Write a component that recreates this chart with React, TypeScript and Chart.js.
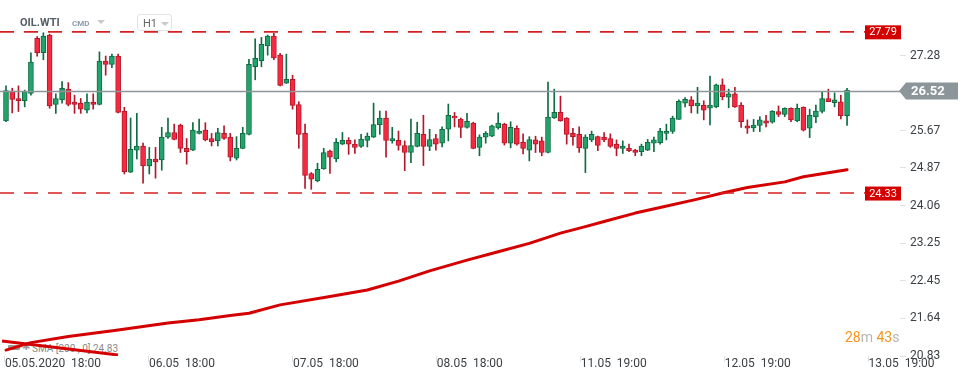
import React, { useEffect, useRef } from 'react';
import { Chart, registerables } from 'chart.js';

Chart.register(...registerables);

// ---- Data ----
const opens = [
  25.88, 26.52, 26.36, 26.31, 26.47, 27.65, 27.34, 27.72, 26.23, 26.33,
  26.56, 26.28, 26.26, 26.11, 26.28, 26.23, 27.16, 27.09, 27.27, 26.09,
  24.78, 25.25, 25.34, 24.91, 25.06, 25.04, 25.53, 25.63, 25.79, 25.29,
  25.25, 25.61, 25.68, 25.50, 25.45, 25.61, 25.53, 25.08, 25.29, 25.59,
  27.04, 27.17, 27.49, 27.70, 27.29, 26.69, 26.77, 26.23, 25.61, 24.75,
  24.59, 24.85, 25.23, 25.06, 25.38, 25.46, 25.38, 25.33, 25.46, 25.53,
  25.80, 25.94, 25.45, 25.46, 25.35, 25.20, 25.33, 25.59, 25.33, 25.50,
  25.40, 25.70, 25.98, 25.92, 25.74, 25.83, 25.31, 25.53, 25.55, 25.73,
  25.81, 25.40, 25.72, 25.42, 25.25, 25.47, 25.45, 25.20, 25.94, 26.06,
  25.94, 25.61, 25.59, 25.29, 25.47, 25.54, 25.53, 25.50, 25.38, 25.29,
  25.29, 25.25, 25.22, 25.25, 25.40, 25.41, 25.61, 25.65, 25.91, 26.26,
  26.33, 26.20, 26.22, 26.15, 26.18, 26.65, 26.39, 26.46, 26.22, 25.77,
  25.73, 25.78, 25.88, 25.85, 26.08, 26.02, 26.15, 25.88, 26.17, 25.72,
  25.97, 26.08, 26.36, 26.27, 26.29, 25.99,
];
const highs = [
  26.63, 26.58, 26.63, 26.54, 27.34, 27.69, 27.77, 27.74, 26.46, 26.72,
  26.70, 26.43, 26.36, 26.46, 26.46, 27.36, 27.27, 27.31, 27.31, 26.17,
  25.94, 26.04, 25.40, 25.31, 25.31, 25.74, 25.94, 25.81, 25.81, 25.50,
  25.84, 25.92, 25.84, 25.61, 25.72, 25.77, 25.61, 25.54, 25.74, 27.20,
  27.64, 27.67, 27.72, 27.76, 27.33, 27.31, 26.86, 26.29, 25.81, 24.77,
  24.97, 25.29, 25.25, 25.50, 25.63, 25.52, 25.47, 25.59, 25.62, 26.26,
  26.09, 26.09, 25.74, 25.66, 25.45, 25.92, 25.85, 26.00, 25.70, 25.59,
  25.75, 26.24, 26.06, 25.94, 26.04, 25.85, 25.58, 25.65, 25.79, 26.05,
  25.83, 25.86, 25.77, 25.60, 25.54, 25.55, 25.53, 26.71, 26.56, 26.41,
  25.95, 25.72, 25.75, 25.58, 25.66, 25.55, 25.63, 25.60, 25.47, 25.45,
  25.38, 25.27, 25.38, 25.48, 25.53, 25.72, 25.81, 25.98, 26.33, 26.38,
  26.40, 26.60, 26.31, 26.84, 26.67, 26.78, 26.56, 26.60, 26.27, 25.90,
  25.91, 25.97, 26.00, 26.10, 26.20, 26.16, 26.16, 26.24, 26.18, 26.13,
  26.22, 26.51, 26.56, 26.48, 26.43, 26.58,
];
const lows = [
  25.86, 26.05, 26.08, 26.18, 26.43, 27.27, 27.19, 26.15, 26.04, 26.26,
  26.20, 26.04, 26.04, 26.05, 26.13, 26.22, 26.86, 27.02, 26.05, 24.74,
  24.77, 25.06, 24.54, 24.74, 24.65, 24.82, 25.50, 25.47, 25.20, 24.95,
  25.24, 25.60, 25.45, 25.34, 25.34, 25.48, 25.02, 25.04, 25.28, 25.58,
  26.76, 27.04, 27.29, 27.19, 26.63, 26.68, 26.13, 25.29, 24.43, 24.41,
  24.57, 24.84, 24.75, 25.00, 25.37, 25.16, 25.18, 25.31, 25.32, 25.52,
  25.59, 25.10, 25.40, 25.25, 24.81, 24.98, 25.32, 24.92, 25.24, 25.25,
  25.32, 25.45, 25.75, 25.52, 25.72, 25.28, 25.13, 25.40, 25.54, 25.70,
  25.36, 25.30, 25.36, 25.17, 25.02, 25.20, 25.13, 25.19, 25.93, 25.87,
  25.38, 25.36, 25.20, 24.77, 25.43, 25.24, 25.43, 25.31, 25.13, 25.18,
  25.22, 25.13, 25.13, 25.24, 25.22, 25.38, 25.47, 25.61, 25.91, 26.18,
  26.05, 26.04, 25.90, 25.79, 26.16, 26.33, 26.16, 26.17, 25.74, 25.61,
  25.65, 25.65, 25.75, 25.83, 25.97, 25.97, 25.86, 25.86, 25.66, 25.52,
  25.84, 26.05, 26.29, 26.18, 25.92, 25.78,
];
const closes = [
  26.53, 26.34, 26.31, 26.51, 27.14, 27.34, 27.70, 26.20, 26.36, 26.58,
  26.23, 26.23, 26.13, 26.28, 26.23, 27.16, 27.09, 27.27, 26.06, 24.79,
  25.27, 25.34, 24.91, 25.06, 25.00, 25.53, 25.63, 25.48, 25.29, 25.22,
  25.68, 25.66, 25.47, 25.43, 25.63, 25.50, 25.10, 25.29, 25.61, 27.09,
  27.22, 27.52, 27.70, 27.23, 26.64, 26.77, 26.21, 25.59, 24.71, 24.63,
  24.84, 25.20, 25.10, 25.42, 25.46, 25.38, 25.31, 25.49, 25.55, 25.80,
  25.94, 25.46, 25.50, 25.35, 25.20, 25.35, 25.61, 25.33, 25.48, 25.38,
  25.70, 26.00, 25.94, 25.74, 25.87, 25.29, 25.53, 25.61, 25.77, 25.83,
  25.40, 25.74, 25.38, 25.29, 25.48, 25.38, 25.20, 25.96, 26.06, 25.88,
  25.59, 25.54, 25.30, 25.53, 25.59, 25.35, 25.47, 25.33, 25.29, 25.34,
  25.24, 25.20, 25.34, 25.42, 25.47, 25.66, 25.66, 25.94, 26.30, 26.34,
  26.20, 26.26, 26.11, 26.22, 26.65, 26.40, 26.46, 26.18, 25.86, 25.72,
  25.79, 25.90, 25.83, 26.09, 26.02, 26.15, 25.90, 26.15, 25.68, 26.00,
  26.09, 26.36, 26.29, 26.33, 25.99, 26.54,
];

// SMA(200) read at candle positions
const smaIndex = [0, 4, 10, 18, 26, 31, 36, 39, 44, 52, 58, 63, 68, 74, 79, 84, 89, 93, 96, 101, 105, 111, 115, 119, 125, 128, 135];
const smaValues = [20.96, 21.12, 21.25, 21.39, 21.54, 21.61, 21.70, 21.75, 21.93, 22.11, 22.25, 22.44, 22.66, 22.89, 23.07, 23.25, 23.47, 23.61, 23.72, 23.90, 24.02, 24.20, 24.33, 24.45, 24.57, 24.68, 24.83];
// short descending red segment at bottom-left
const tailIndex = [-0.64, 17.98];
const tailValues = [21.155, 20.855];

const xTickPositions = [-0.18, 22.95, 46.05, 69.15, 92.26, 115.36, 138.46];
const xTickLabels = ['05.05.2020  18:00', '06.05  18:00', '07.05  18:00', '08.05  18:00', '11.05  19:00', '12.05  19:00', '13.05  19:00'];
const yTickValues = [20.83, 21.64, 22.45, 23.25, 24.06, 24.87, 25.67, 27.28];
const yMin = 20.833;
const yMax = 28.473;
const xMin = -0.963;
const xMax = 143.5;

const resistanceLevel = 27.79;
const supportLevel = 24.33;
const lastPrice = 26.52;
const smaLegend = 'SMA [200 , 0] 24.83';
const symbol = 'OIL.WTI';
const symbolType = 'CMD';
const timeframe = 'H1';
const countdownMin = '28';
const countdownSec = '43';

const GREEN_FILL = '#22a36b';
const GREEN_LINE = '#0f6b42';
const RED_FILL = '#f52a40';
const RED_LINE = '#b3172a';
const FONT = 'Roboto, "Open Sans", sans-serif';

const overlayPlugin = {
  id: 'overlayLines',
  afterDatasetsDraw(chart: any) {
    const { ctx, chartArea, scales } = chart;
    const y = scales.y;
    ctx.save();
    const lp = Math.round(y.getPixelForValue(lastPrice)) + 0.5;
    ctx.strokeStyle = '#8c9599';
    ctx.lineWidth = 1.5;
    ctx.beginPath();
    ctx.moveTo(chartArea.left, lp);
    ctx.lineTo(chartArea.right, lp);
    ctx.stroke();

    ctx.setLineDash([14, 10]);
    ctx.strokeStyle = '#d82020';
    ctx.lineWidth = 1.6;
    for (const v of [resistanceLevel, supportLevel]) {
      const p = y.getPixelForValue(v);
      ctx.beginPath();
      ctx.moveTo(chartArea.left, p);
      ctx.lineTo(chartArea.right - 35, p);
      ctx.stroke();
    }
    ctx.restore();
  },
  afterDraw(chart: any) {
    const { ctx, chartArea, scales } = chart;
    const y = scales.y;
    ctx.save();
    // red level boxes
    for (const v of [resistanceLevel, supportLevel]) {
      const p = y.getPixelForValue(v);
      const x0 = chartArea.right - 35;
      ctx.fillStyle = '#d40000';
      ctx.fillRect(x0, p - 6.5, 36, 14);
      ctx.fillStyle = '#ffffff';
      ctx.font = `11px ${FONT}`;
      ctx.textAlign = 'center';
      ctx.textBaseline = 'middle';
      ctx.fillText(v.toFixed(2), x0 + 18, p + 0.8);
    }
    // last price arrow label
    const lp = y.getPixelForValue(lastPrice);
    const r = chartArea.right;
    ctx.fillStyle = '#8c9599';
    ctx.beginPath();
    ctx.moveTo(r - 1, lp);
    ctx.lineTo(r + 6, lp - 8.5);
    ctx.lineTo(r + 58, lp - 8.5);
    ctx.lineTo(r + 58, lp + 8.5);
    ctx.lineTo(r + 6, lp + 8.5);
    ctx.closePath();
    ctx.fill();
    ctx.fillStyle = '#ffffff';
    ctx.font = `bold 13px ${FONT}`;
    ctx.textAlign = 'left';
    ctx.textBaseline = 'middle';
    ctx.fillText(lastPrice.toFixed(2), r + 11, lp + 1);
    ctx.restore();
  },
};

export default function App() {
  const canvasRef = useRef<HTMLCanvasElement | null>(null);

  useEffect(() => {
    const canvas = canvasRef.current;
    if (!canvas) return;
    const isUp = closes.map((c, i) => c >= opens[i]);
    const fills = isUp.map((u) => (u ? GREEN_FILL : RED_FILL));
    const lines = isUp.map((u) => (u ? GREEN_LINE : RED_LINE));
    const bodies = opens.map((o, i) => ({ x: i, y: [o, closes[i]] }));
    const wicks = lows.map((l, i) => ({ x: i, y: [l, highs[i]] }));
    const smaPts = smaIndex.map((x, i) => ({ x, y: smaValues[i] }));
    const tailPts = tailIndex.map((x, i) => ({ x, y: tailValues[i] }));

    const chart = new Chart(canvas, {
      type: 'bar',
      data: {
        datasets: [
          {
            type: 'line',
            label: 'SMA',
            data: smaPts,
            borderColor: '#d40000',
            borderWidth: 3,
            pointRadius: 0,
            tension: 0,
            borderJoinStyle: 'round',
            borderCapStyle: 'round',
            order: 0,
          } as any,
          {
            type: 'line',
            label: 'SMA tail',
            data: tailPts,
            borderColor: '#d40000',
            borderWidth: 3,
            pointRadius: 0,
            order: 0,
          } as any,
          {
            label: 'body',
            data: bodies,
            backgroundColor: fills,
            borderColor: lines,
            borderWidth: 1,
            borderSkipped: false,
            barThickness: 5,
            grouped: false,
            minBarLength: 1,
            order: 1,
          } as any,
          {
            label: 'wick',
            data: wicks,
            backgroundColor: lines,
            borderWidth: 0,
            barThickness: 1,
            grouped: false,
            order: 2,
          } as any,
        ],
      },
      options: {
        animation: false,
        responsive: true,
        maintainAspectRatio: false,
        devicePixelRatio: 1,
        events: [],
        layout: { padding: 0 },
        plugins: {
          legend: { display: false },
          tooltip: { enabled: false },
          title: { display: false },
        },
        scales: {
          x: {
            type: 'linear',
            min: xMin,
            max: xMax,
            offset: false,
            grid: { display: true, drawOnChartArea: false, drawTicks: true, tickLength: 6, color: '#e2e2e2', offset: false },
            border: { display: false },
            afterBuildTicks: (s: any) => {
              s.ticks = xTickPositions.map((v) => ({ value: v }));
            },
            afterFit: (s: any) => {
              s.height = 25;
              s.paddingLeft = 0;
              s.paddingRight = 0;
            },
            ticks: {
              autoSkip: false,
              maxRotation: 0,
              minRotation: 0,
              align: 'start',
              padding: -5,
              color: '#3a3f44',
              font: { family: FONT, size: 12 },
              callback: (_v: any, i: number) => xTickLabels[i],
            },
          } as any,
          y: {
            type: 'linear',
            position: 'right',
            min: yMin,
            max: yMax,
            grid: { display: true, drawOnChartArea: false, drawTicks: true, tickLength: 6, color: '#e2e2e2' },
            border: { display: false },
            afterBuildTicks: (s: any) => {
              s.ticks = yTickValues.map((v) => ({ value: v }));
            },
            afterFit: (s: any) => {
              s.width = 70;
              s.paddingTop = 0;
              s.paddingBottom = 0;
            },
            ticks: {
              padding: 4,
              color: '#3a3f44',
              font: { family: FONT, size: 12 },
              callback: (v: any) => Number(v).toFixed(2),
            },
          } as any,
        },
      },
      plugins: [overlayPlugin],
    });
    return () => chart.destroy();
  }, []);

  const tri = (left: number, top: number) => (
    <div
      style={{
        position: 'absolute',
        left,
        top,
        width: 0,
        height: 0,
        borderLeft: '4px solid transparent',
        borderRight: '4px solid transparent',
        borderTop: '4px solid #c9c9c9',
      }}
    />
  );

  return (
    <div style={{ position: 'absolute', left: 0, top: 0, width: 970, height: 381, background: '#fff', overflow: 'hidden', fontFamily: FONT }}>
      {/* SMA legend (below canvas so the red lines cross it) */}
      <div style={{ position: 'absolute', left: 8, top: 345, width: 12, height: 5, background: '#9a9a9a', borderRadius: 1 }} />
      <div style={{ position: 'absolute', left: 22, top: 342, fontSize: 10, lineHeight: '10px', color: '#9a9a9a' }}>✱</div>
      <div style={{ position: 'absolute', left: 32, top: 344, fontSize: 10, lineHeight: '10px', color: '#8a8a8a', whiteSpace: 'pre' }}>{smaLegend}</div>

      <div style={{ position: 'absolute', left: 0, top: 0, width: 970, height: 381, zIndex: 1 }}>
        <canvas ref={canvasRef} />
      </div>

      {/* header */}
      <div style={{ position: 'absolute', zIndex: 2, left: 20, top: 17, fontSize: 11, fontWeight: 'bold', lineHeight: '11px', color: '#555d66' }}>{symbol}</div>
      <div style={{ position: 'absolute', zIndex: 2, left: 72, top: 19.5, fontSize: 8, fontWeight: 'bold', lineHeight: '8px', color: '#8b9bab' }}>{symbolType}</div>
      <div style={{ position: 'absolute', zIndex: 2, left: 0, top: 0 }}>{tri(97, 20)}</div>
      <div
        style={{
          position: 'absolute',
          zIndex: 2,
          left: 137,
          top: 14,
          width: 35,
          height: 17,
          boxSizing: 'border-box',
          border: '1px solid #e3e3e3',
          borderRadius: 3,
          background: 'rgba(255,255,255,0.9)',
        }}
      >
        <div style={{ position: 'absolute', left: 5, top: 3, fontSize: 11, lineHeight: '11px', color: '#666' }}>{timeframe}</div>
        <div style={{ position: 'absolute', left: 0, top: 0 }}>{tri(23, 7)}</div>
      </div>

      {/* countdown */}
      <div style={{ position: 'absolute', zIndex: 2, left: 845, top: 330, fontSize: 14, lineHeight: '14px', whiteSpace: 'pre' }}>
        <span style={{ color: '#f7931d' }}>{countdownMin}</span>
        <span style={{ color: '#b5b5b5' }}>m </span>
        <span style={{ color: '#f7931d' }}>{countdownSec}</span>
        <span style={{ color: '#b5b5b5' }}>s</span>
      </div>
    </div>
  );
}
